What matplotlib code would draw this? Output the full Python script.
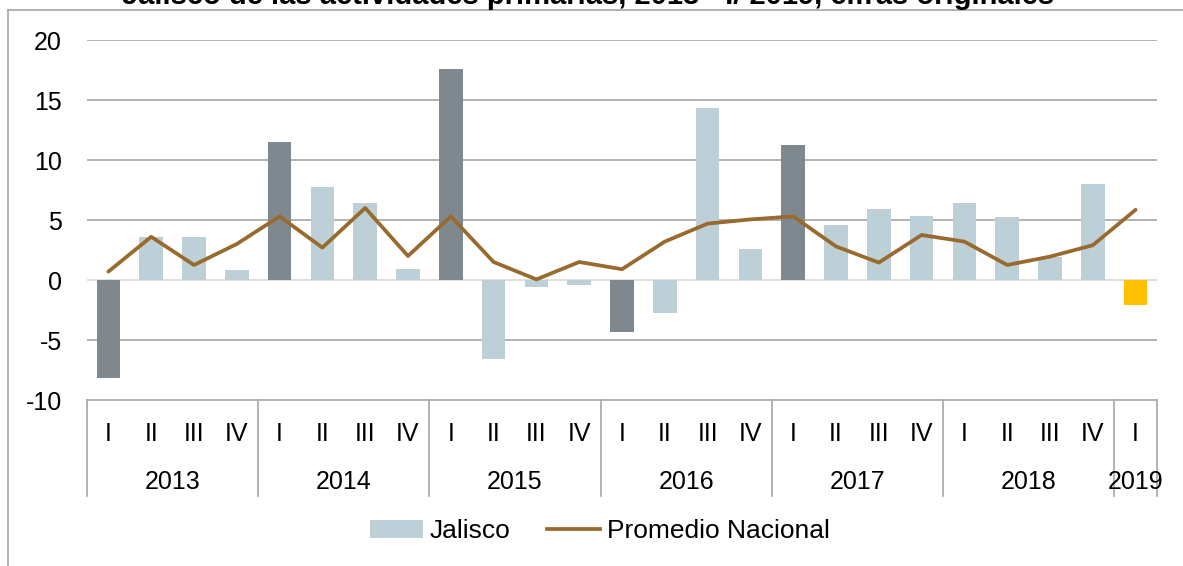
import matplotlib
matplotlib.use("Agg")
import matplotlib.pyplot as plt
from matplotlib.patches import Patch
from matplotlib.lines import Line2D
import matplotlib.transforms as mtransforms

plt.rcParams["font.family"] = ["Liberation Sans", "DejaVu Sans"]
plt.rcParams["axes.unicode_minus"] = False

# data
years = ["2013", "2014", "2015", "2016", "2017", "2018", "2019"]
quarters = ["I", "II", "III", "IV"] * 6 + ["I"]
jalisco = [-8.2, 3.6, 3.55, 0.8,
           11.5, 7.75, 6.4, 0.9,
           17.6, -6.55, -0.55, -0.45,
           -4.3, -2.75, 14.3, 2.6,
           11.25, 4.6, 5.9, 5.3,
           6.4, 5.25, 1.95, 8.0,
           -2.05]
promedio = [0.7, 3.6, 1.25, 3.0,
            5.3, 2.7, 6.0, 2.0,
            5.3, 1.5, 0.05, 1.5,
            0.9, 3.2, 4.7, 5.05,
            5.3, 2.8, 1.45, 3.75,
            3.2, 1.25, 1.95, 2.9,
            5.85]

LIGHT = "#BDD0D7"
DARK = "#7F888E"
GOLD = "#FFC000"
BROWN = "#986A2E"
GRID = "#A6A6A6"

colors = [LIGHT] * len(jalisco)
for i in (0, 4, 8, 12, 16):
    colors[i] = DARK
colors[-1] = GOLD

W, H = 1183, 566
fig = plt.figure(figsize=(W / 100, H / 100), dpi=100)
ax = fig.add_axes([87 / W, 1 - 400 / H, (1157 - 87) / W, 360 / H])

x = list(range(len(jalisco)))
ax.bar(x, jalisco, width=0.55, color=colors, zorder=2)
ax.plot(x, promedio, color=BROWN, linewidth=2.7, zorder=3, solid_capstyle="round")

ax.set_xlim(-0.5, len(x) - 0.5)
ax.set_ylim(-10, 20)
ax.set_yticks(range(-10, 21, 5))
for v in range(-5, 21, 5):
    if v == 0:
        ax.axhline(v, color="#D9D9D9", linewidth=1.2, zorder=1)
    else:
        ax.axhline(v, color=GRID, linewidth=1.2, zorder=1)

for s in ("top", "right", "left"):
    ax.spines[s].set_visible(False)
ax.spines["bottom"].set_color(GRID)
ax.spines["bottom"].set_linewidth(1.2)

ax.tick_params(axis="y", length=0, pad=18, labelsize=18)
ax.set_xticks(x)
ax.set_xticklabels(quarters, fontsize=18)
ax.tick_params(axis="x", length=0, pad=16)

# year labels and separators
trans = mtransforms.blended_transform_factory(ax.transData, ax.transAxes)
starts = [0, 4, 8, 12, 16, 20, 24]
ends = [4, 8, 12, 16, 20, 24, 25]
for yr, s, e in zip(years, starts, ends):
    ax.text((s + e - 1) / 2, -82 / 360, yr, transform=trans, ha="center",
            va="center", fontsize=18)
for b in starts + [25]:
    ax.plot([b - 0.5, b - 0.5], [0, -96 / 360], transform=trans, color=GRID,
            linewidth=1.2, clip_on=False)

handles = [Patch(facecolor=LIGHT, edgecolor="none", label="Jalisco"),
           Line2D([0], [0], color=BROWN, linewidth=2.7, label="Promedio Nacional")]
fig.legend(handles=handles, loc="center", bbox_to_anchor=(600 / W, 1 - 531 / H),
           ncol=2, frameon=False, fontsize=19, handlelength=2.0,
           handletextpad=0.25, columnspacing=1.4)

# outer frame (partially visible)
fig.add_artist(Line2D([8 / W, 8 / W], [0, 1 - 10 / H], transform=fig.transFigure,
                      color=GRID, linewidth=1.2))
fig.add_artist(Line2D([8 / W, 1], [1 - 10 / H, 1 - 10 / H], transform=fig.transFigure,
                      color=GRID, linewidth=1.2))

fig.text(588 / W, 1 - 4 / H,
         "Jalisco de las actividades primarias, 2013 - I/ 2019, cifras originales",
         ha="center", va="baseline", fontsize=21, fontweight="bold")

fig.savefig("out.png", dpi=100, facecolor="white")
